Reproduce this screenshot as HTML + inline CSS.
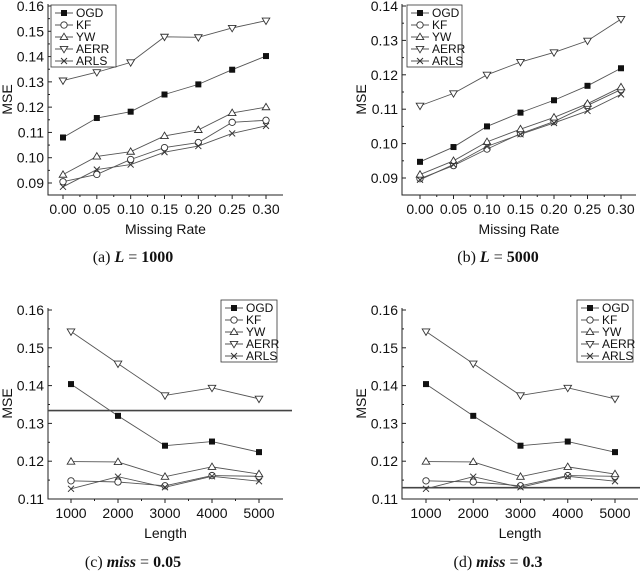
<!DOCTYPE html>
<html><head><meta charset="utf-8"><style>
body{margin:0;background:#fff;}
svg{display:block;}
text{font-family:"Liberation Sans",Arial,sans-serif;fill:#111;}
.cap{font-family:"Liberation Serif",serif;font-size:16px;}
</style></head><body>
<svg id="fig" width="640" height="571" viewBox="0 0 640 571"></svg>
<script>
const seriesNames = ["OGD","KF","YW","AERR","ARLS"];
const missCats = [0.00,0.05,0.10,0.15,0.20,0.25,0.30];
const missLabels = ["0.00","0.05","0.10","0.15","0.20","0.25","0.30"];
const lenCats = [1000,2000,3000,4000,5000];
const lenLabels = ["1000","2000","3000","4000","5000"];
const aOGD = [0.108,0.1157,0.1182,0.125,0.129,0.1348,0.1402];
const aKF = [0.0905,0.0934,0.0993,0.104,0.106,0.114,0.1148];
const aYW = [0.0933,0.1005,0.1024,0.1086,0.111,0.1177,0.12];
const aAERR = [0.1305,0.1338,0.1377,0.1478,0.1476,0.1513,0.1542];
const aARLS = [0.0885,0.0953,0.0973,0.1022,0.1046,0.1096,0.1126];
const bOGD = [0.0947,0.0990,0.1050,0.1090,0.1126,0.1168,0.1219];
const bKF = [0.0898,0.0936,0.0984,0.1029,0.1064,0.1111,0.1157];
const bYW = [0.0910,0.0950,0.1005,0.1042,0.1076,0.1116,0.1164];
const bAERR = [0.1110,0.1146,0.1200,0.1237,0.1265,0.1299,0.1362];
const bARLS = [0.0895,0.0939,0.0992,0.1027,0.1060,0.1095,0.1143];
const cOGD = [0.1404,0.1320,0.1241,0.1252,0.1224];
const cKF = [0.1148,0.1145,0.1135,0.1162,0.1160];
const cYW = [0.1199,0.1198,0.1159,0.1185,0.1166];
const cAERR = [0.1543,0.1458,0.1374,0.1394,0.1365];
const cARLS = [0.1127,0.1159,0.1131,0.1160,0.1147];
const aTicks = [0.09,0.10,0.11,0.12,0.13,0.14,0.15,0.16];
const aTickLabels = ["0.09","0.10","0.11","0.12","0.13","0.14","0.15","0.16"];
const bTicks = [0.09,0.10,0.11,0.12,0.13,0.14];
const bTickLabels = ["0.09","0.10","0.11","0.12","0.13","0.14"];
const cTicks = [0.11,0.12,0.13,0.14,0.15,0.16];
const cTickLabels = ["0.11","0.12","0.13","0.14","0.15","0.16"];
const cRefLine = 0.1334;
const dRefLine = 0.1130;

const NS="http://www.w3.org/2000/svg";
const svg=document.getElementById('fig');
function mk(tag,attrs,parent){const e=document.createElementNS(NS,tag);for(const k in attrs)e.setAttribute(k,attrs[k]);(parent||svg).appendChild(e);return e;}
function marker(g,name,x,y){
  let e;
  if(name==="OGD"){e=mk('rect',{x:x-3,y:y-3,width:6,height:6,fill:'#111'},g);}
  else if(name==="KF"){e=mk('circle',{cx:x,cy:y,r:3.2,fill:'#fff',stroke:'#333','stroke-width':0.9},g);}
  else if(name==="YW"){e=mk('polygon',{points:`${x},${y-3.8} ${x-3.8},${y+2.6} ${x+3.8},${y+2.6}`,fill:'#fff',stroke:'#333','stroke-width':0.9},g);}
  else if(name==="AERR"){e=mk('polygon',{points:`${x},${y+3.8} ${x-3.8},${y-2.6} ${x+3.8},${y-2.6}`,fill:'#fff',stroke:'#333','stroke-width':0.9},g);}
  else {e=mk('path',{d:`M${x-3},${y-3}L${x+3},${y+3}M${x-3},${y+3}L${x+3},${y-3}`,stroke:'#333','stroke-width':1},g);}
  return e;
}
function panel(p){
  const g=mk('g',{});
  
  
  const X=v=>p.x0+(v-p.xc[0])/(p.xc[1]-p.xc[0])*(p.x1-p.x0);
  const Y=v=>p.y0+(v-p.yv[0])/(p.yv[1]-p.yv[0])*(p.y1-p.y0);
  const ax=mk('path',{d:`M${p.ax},${p.top}V${p.bot}H${p.right}`,fill:'none',stroke:'#222','stroke-width':1},g);
  
  
  p.yt.forEach((t,i)=>{
    const y=Y(t);
    mk('line',{x1:p.ax,x2:p.ax+4,y1:y,y2:y,stroke:'#222'},g);
    if(i<p.yt.length-1){const ym=(y+Y(p.yt[i+1]))/2;mk('line',{x1:p.ax,x2:p.ax+2,y1:ym,y2:ym,stroke:'#222'},g);}
    const tx=mk('text',{x:p.ax-4,y:y+5,'text-anchor':'end','font-size':14},g);tx.textContent=p.ytl[i];
    
    
  });
  p.xcats.forEach((c,i)=>{
    const x=X(c);
    mk('line',{x1:x,x2:x,y1:p.bot,y2:p.bot+4,stroke:'#222'},g);
    if(i<p.xcats.length-1){const xm=(x+X(p.xcats[i+1]))/2;mk('line',{x1:xm,x2:xm,y1:p.bot,y2:p.bot+2,stroke:'#222'},g);}
    const tx=mk('text',{x:x,y:p.bot+19,'text-anchor':'middle','font-size':14},g);tx.textContent=p.xl[i];
    
    
  });
  const xt=mk('text',{x:(p.ax+p.right)/2,y:p.bot+39,'text-anchor':'middle','font-size':14},g);xt.textContent=p.xtitle;
  
  
  const yy=(p.top+p.bot)/2;
  const yt=mk('text',{x:p.ax-36,y:yy,'text-anchor':'middle','font-size':14,transform:`rotate(-90 ${p.ax-36} ${yy})`},g);yt.textContent="MSE";
  
  
  if(p.ref!==undefined){
    const l=mk('line',{x1:p.refx0,x2:p.refx1,y1:Y(p.ref),y2:Y(p.ref),stroke:'#444','stroke-width':1.6},g);
    
    
  }
  seriesNames.forEach((n,si)=>{
    const vals=p.data[si];
    const pts=vals.map((v,i)=>`${X(p.xcats[i])},${Y(v)}`).join(' ');
    const pl=mk('polyline',{points:pts,fill:'none',stroke:'#555','stroke-width':0.9},g);
    
    
    vals.forEach((v,i)=>{const m=marker(g,n,X(p.xcats[i]),Y(v));
      
      });
  });
  const lg=mk('g',{},g);
  
  
  mk('rect',{x:p.lx,y:p.ly,width:p.lw,height:62,fill:'#fff',stroke:'#333','stroke-width':0.8},lg);
  seriesNames.forEach((n,i)=>{
    const y=p.ly+8+i*12;
    const e=mk('g',{},lg);
    
    
    mk('line',{x1:p.lx+4,x2:p.lx+22,y1:y,y2:y,stroke:'#555','stroke-width':0.9},e);
    marker(e,n,p.lx+13,y);
    const t=mk('text',{x:p.lx+25,y:y+4,'font-size':12},e);t.textContent=n;
  });
  const cap=mk('text',{x:p.capx,y:p.capy,'text-anchor':'middle',class:'cap'},g);
  cap.innerHTML=p.cap;
  
  
}
panel({name:'panel-a',x0:63,x1:266,xc:[0,0.3],y0:183,y1:6,yv:[0.09,0.16],ax:48,top:4,bot:195,right:283,
  yt:aTicks,ytl:aTickLabels,xcats:missCats,xl:missLabels,xtitle:'Missing Rate',
  data:[aOGD,aKF,aYW,aAERR,aARLS],lx:51,ly:5,lw:65,capx:133,capy:262,
  cap:'(a) <tspan font-style="italic" font-weight="bold">L</tspan> = <tspan font-weight="bold">1000</tspan>'});
panel({name:'panel-b',x0:420,x1:621,xc:[0,0.3],y0:178,y1:6,yv:[0.09,0.14],ax:402,top:4,bot:195,right:636,
  yt:bTicks,ytl:bTickLabels,xcats:missCats,xl:missLabels,xtitle:'Missing Rate',
  data:[bOGD,bKF,bYW,bAERR,bARLS],lx:407,ly:5,lw:55,capx:498,capy:262,
  cap:'(b) <tspan font-style="italic" font-weight="bold">L</tspan> = <tspan font-weight="bold">5000</tspan>'});
panel({name:'panel-c',x0:71,x1:259,xc:[1000,5000],y0:499,y1:310,yv:[0.11,0.16],ax:48,top:308,bot:499,right:283,
  yt:cTicks,ytl:cTickLabels,xcats:lenCats,xl:lenLabels,xtitle:'Length',
  data:[cOGD,cKF,cYW,cAERR,cARLS],lx:221,ly:300,lw:56,capx:133,capy:567,ref:cRefLine,refx0:48,refx1:292,
  cap:'(c) <tspan font-style="italic" font-weight="bold">miss</tspan> = <tspan font-weight="bold">0.05</tspan>'});
panel({name:'panel-d',x0:426,x1:615,xc:[1000,5000],y0:499,y1:310,yv:[0.11,0.16],ax:402,top:308,bot:499,right:638,
  yt:cTicks,ytl:cTickLabels,xcats:lenCats,xl:lenLabels,xtitle:'Length',
  data:[cOGD,cKF,cYW,cAERR,cARLS],lx:577,ly:300,lw:56,capx:498,capy:567,ref:dRefLine,refx0:402,refx1:640,
  cap:'(d) <tspan font-style="italic" font-weight="bold">miss</tspan> = <tspan font-weight="bold">0.3</tspan>'});
</script>
</body></html>
